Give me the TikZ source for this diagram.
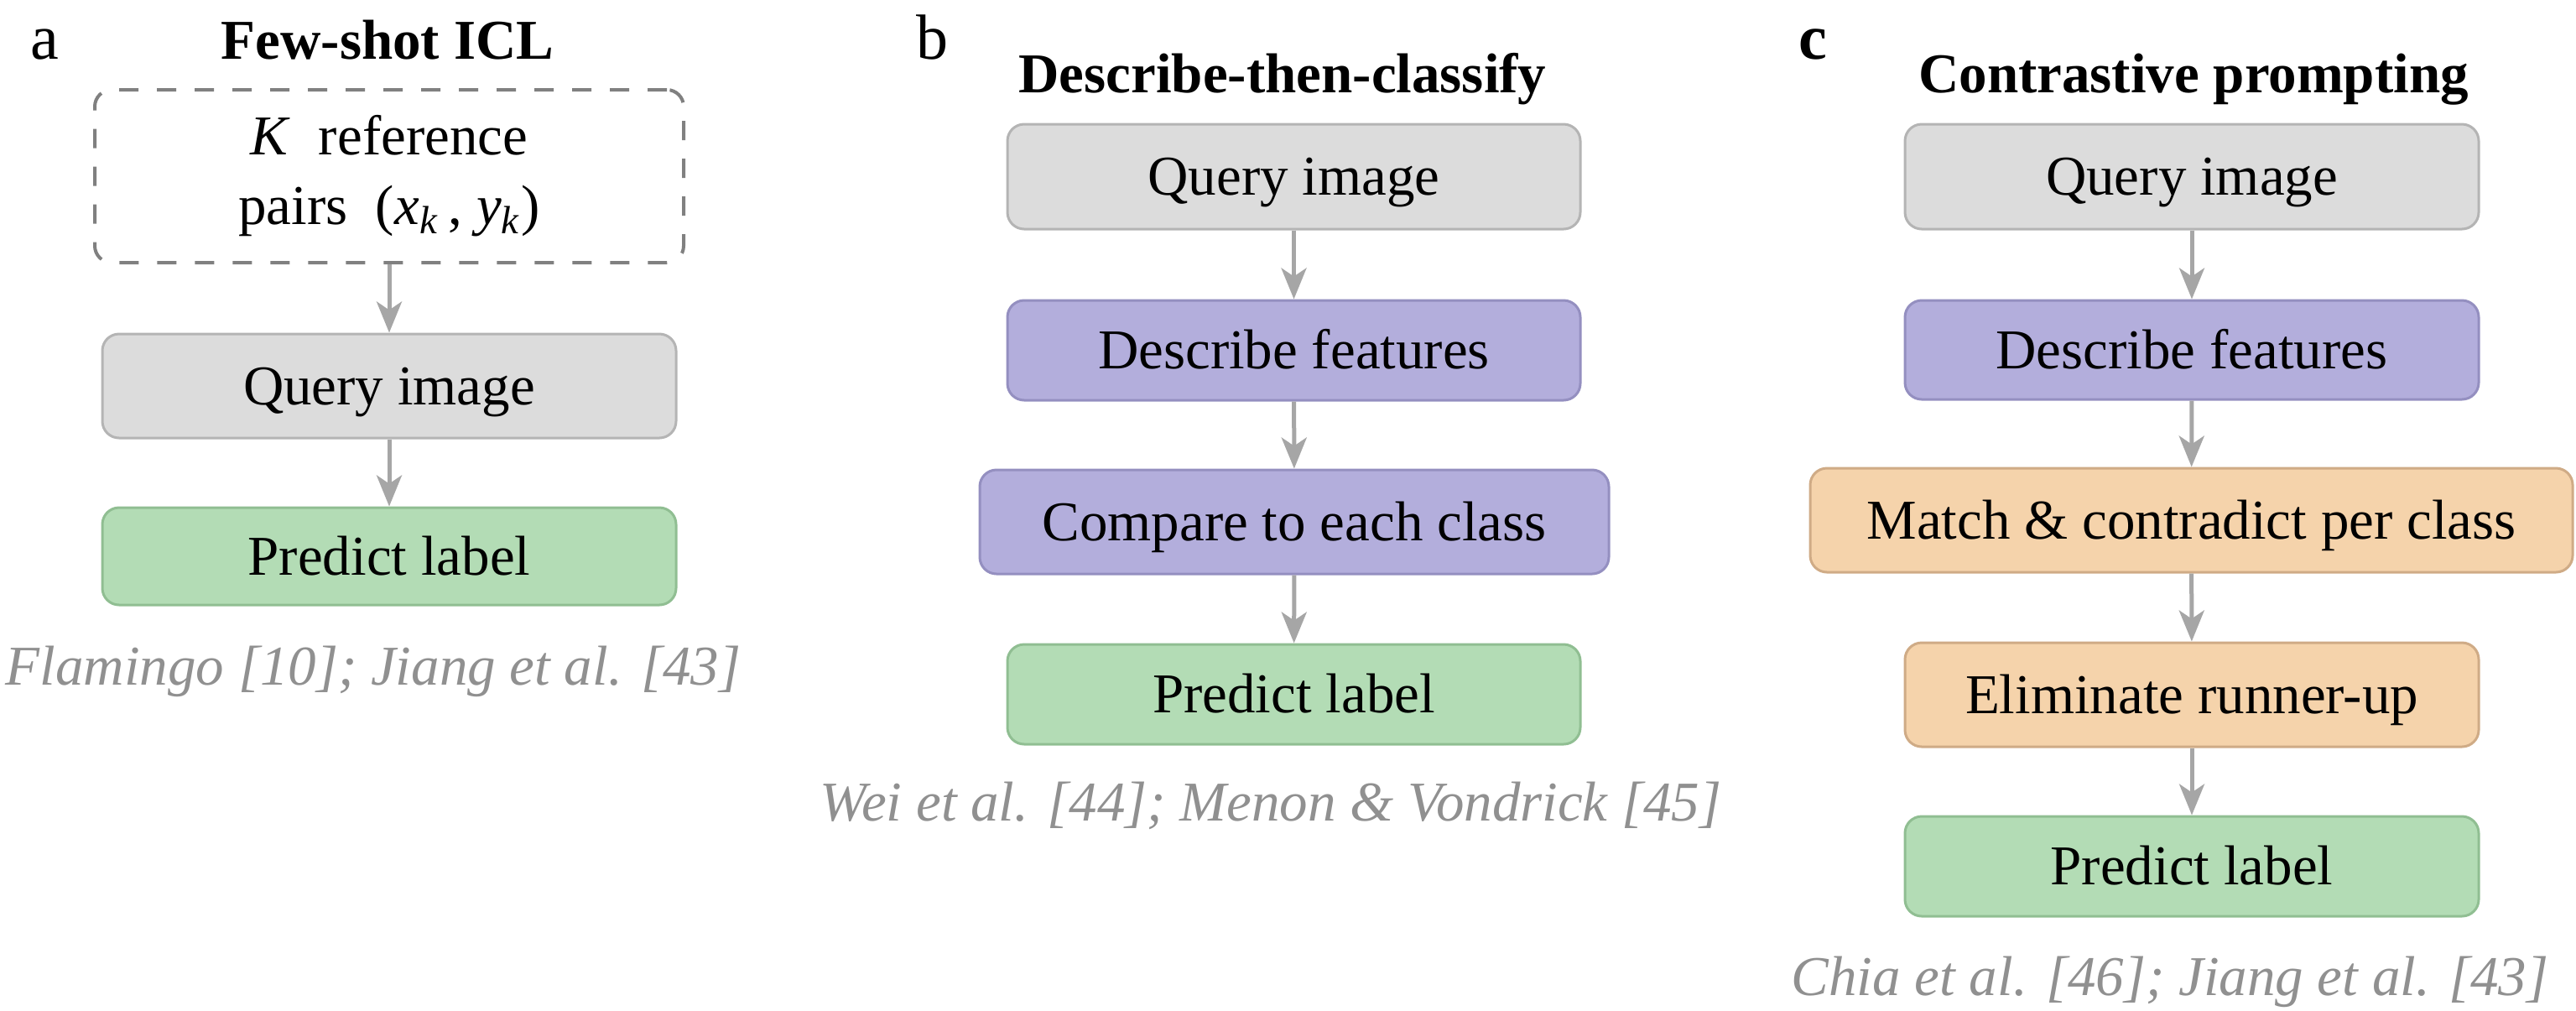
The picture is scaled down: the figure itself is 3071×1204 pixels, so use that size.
\documentclass[tikz,border=0pt]{standalone}
\usepackage{fontspec}
\setmainfont{Liberation Serif}
\usetikzlibrary{arrows.meta}
\definecolor{qfill}{HTML}{DCDCDC}\definecolor{qdraw}{HTML}{B4B4B4}
\definecolor{pfill}{HTML}{B3AEDC}\definecolor{pdraw}{HTML}{948FC0}
\definecolor{gfill}{HTML}{B3DCB5}\definecolor{gdraw}{HTML}{90BE92}
\definecolor{ofill}{HTML}{F5D3AB}\definecolor{odraw}{HTML}{CFAB86}
\definecolor{dashc}{HTML}{808080}
\definecolor{arrc}{HTML}{A6A6A6}
\definecolor{citec}{HTML}{909090}
\newcommand\mybox[7]{\node[#6, minimum width={(#4-#2)*0.25pt}, minimum height={(#5-#3)*0.25pt}] (#1) at ({(#2+#4)/2},{(#3+#5)/2}) {#7};}
\tikzset{
  x=0.25pt, y=-0.25pt,
  boxbase/.style={rounded corners=5pt, line width=0.75pt, inner sep=0pt, text height=11pt, text depth=0pt, font=\fontsize{16.75}{20}\selectfont},
  qbox/.style={boxbase, fill=qfill, draw=qdraw},
  pbox/.style={boxbase, fill=pfill, draw=pdraw},
  gbox/.style={boxbase, fill=gfill, draw=gdraw},
  obox/.style={boxbase, fill=ofill, draw=odraw},
  dbox/.style={rounded corners=5pt, draw=dashc, line width=1pt, dash pattern=on 5.75pt off 5.5pt, inner sep=0pt, align=center, font=\fontsize{16.75}{20.75}\selectfont},
  arr/.style={draw=arrc, line width=1.25pt, -{Stealth[length=9.25pt,width=7.5pt,inset=2.5pt]}},
  ttl/.style={anchor=base, inner sep=0pt, font=\bfseries\fontsize{16.75}{20}\selectfont},
  lbl/.style={anchor=base, inner sep=0pt, font=\fontsize{19}{22}\selectfont},
  cite/.style={anchor=base, inner sep=0pt, text=citec, font=\itshape\fontsize{16.75}{20}\selectfont},
}
\begin{document}
\begin{tikzpicture}
\useasboundingbox (0,0) rectangle (3071,1204);
% panel a
\node[lbl] (la) at (53,70) {a};
\node[ttl] (ta) at (462,70) {Few-shot ICL};
\mybox{ra}{113}{107}{815}{313}{dbox}{\textit{K}\ \ reference\\pairs\ \ (\textit{x}\textsubscript{\textit{k}}\,,\ \textit{y}\textsubscript{\textit{k}})}
\mybox{qa}{122}{398}{806}{522}{qbox}{Query image}
\mybox{pa}{122}{605}{806}{721}{gbox}{Predict label}
\node[cite] (ca) at (445,816) {Flamingo [10]; Jiang et al. [43]};
\draw[arr] (ra) -- (qa);
\draw[arr] (qa) -- (pa);
% panel b
\node[lbl] (lb) at (1111,70) {b};
\node[ttl] (tb) at (1529,110) {Describe-then-classify};
\mybox{qb}{1201}{148}{1884}{273}{qbox}{Query image}
\mybox{db}{1201}{358}{1884}{477}{pbox}{Describe features}
\mybox{cb}{1168}{560}{1918}{684}{pbox}{Compare to each class}
\mybox{pb}{1201}{768}{1884}{887}{gbox}{Predict label}
\node[cite] (cib) at (1515,978) {Wei et al. [44]; Menon \& Vondrick [45]};
\draw[arr] (qb) -- (db);
\draw[arr] (db) -- (cb);
\draw[arr] (cb) -- (pb);
% panel c
\node[lbl, font=\bfseries\fontsize{19}{22}\selectfont] (lc) at (2161,70) {c};
\node[ttl] (tc) at (2615,110) {Contrastive prompting};
\mybox{qc}{2271}{148}{2955}{273}{qbox}{Query image}
\mybox{dc}{2271}{358}{2955}{476}{pbox}{Describe features}
\mybox{mc}{2158}{558}{3067}{682}{obox}{Match \& contradict per class}
\mybox{ec}{2271}{766}{2955}{890}{obox}{Eliminate runner-up}
\mybox{pc}{2271}{973}{2955}{1092}{gbox}{Predict label}
\node[cite] (cic) at (2587,1186) {Chia et al. [46]; Jiang et al. [43]};
\draw[arr] (qc) -- (dc);
\draw[arr] (dc) -- (mc);
\draw[arr] (mc) -- (ec);
\draw[arr] (ec) -- (pc);
\end{tikzpicture}
\end{document}
